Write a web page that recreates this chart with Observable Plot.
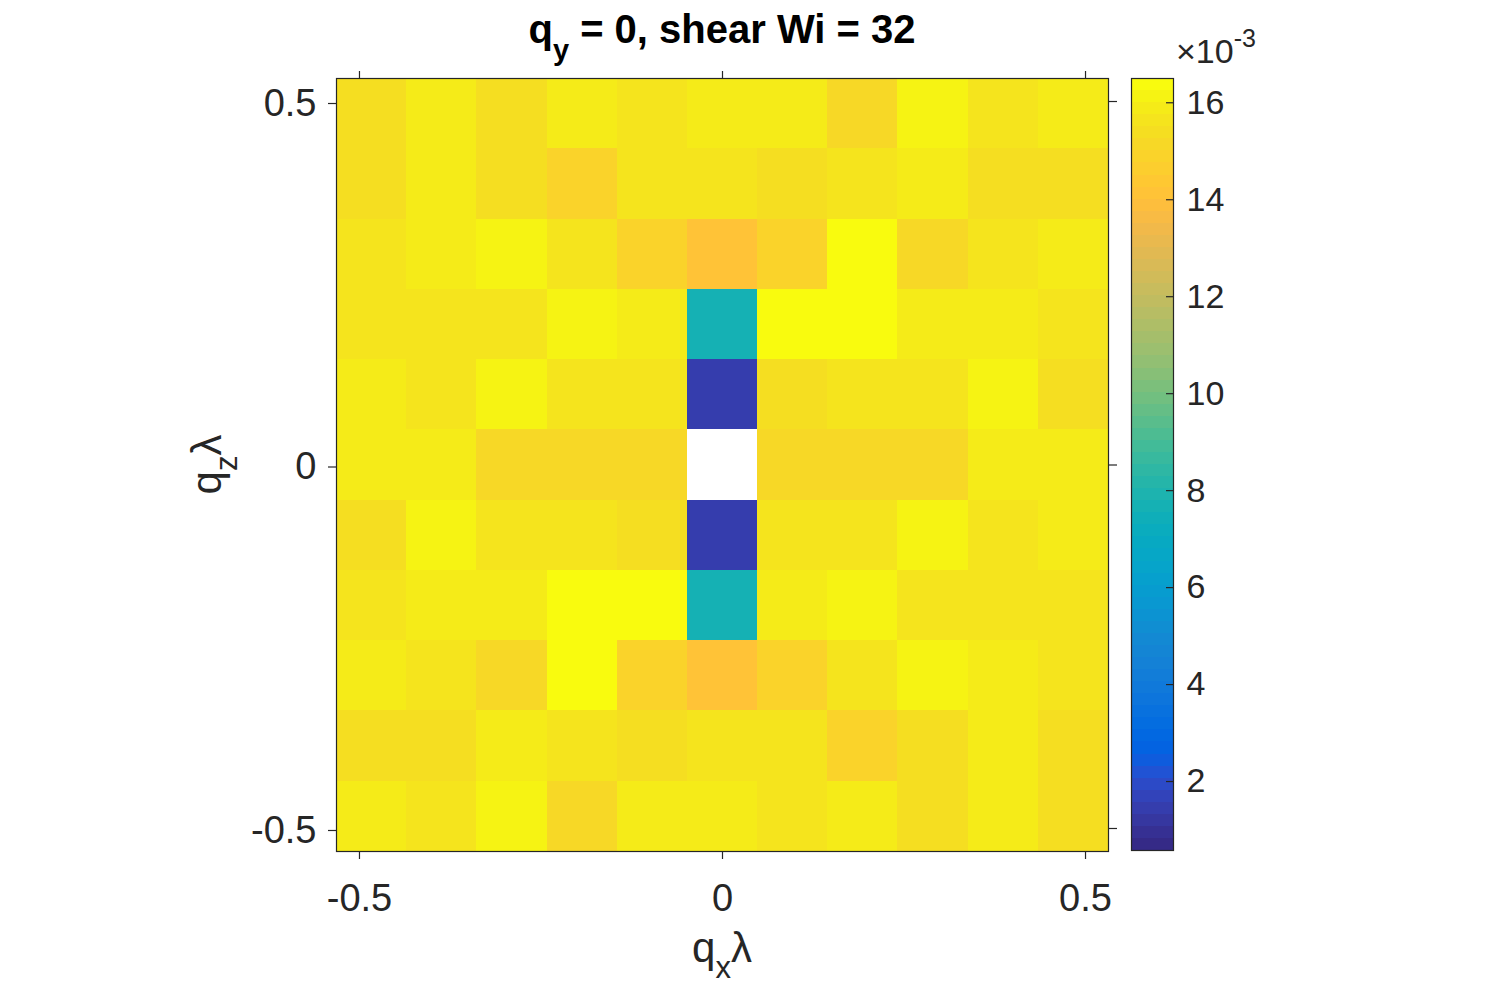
<!DOCTYPE html>
<html><head><meta charset="utf-8">
<script src="https://cdn.jsdelivr.net/npm/d3@7"></script>
<script src="https://cdn.jsdelivr.net/npm/@observablehq/plot@0.6"></script>
<style>
body{margin:0;background:#fff;}
#wrap{position:relative;width:1503px;height:988px;overflow:hidden;background:#fff;}
#wrap svg{position:absolute;top:0;}
</style></head><body><div id="wrap"></div>
<script>
// cell centres (q lambda), spacing 2*pi/65
const qx = [-0.4833, -0.3867, -0.2900, -0.1933, -0.0967, 0, 0.0967, 0.1933, 0.2900, 0.3867, 0.4833];
const qz = [0.4833, 0.3867, 0.2900, 0.1933, 0.0967, 0, -0.0967, -0.1933, -0.2900, -0.3867, -0.4833];
const dq = 0.0967;
// values in units of 1e-3, one row per qz (top to bottom), null = no data
const rowP5 = [15.35, 15.85, 15.35, 15.85, 15.6, 15.85, 15.85, 15.1, 16.1, 15.6, 15.85];
const rowP4 = [15.35, 15.85, 15.35, 14.85, 15.6, 15.6, 15.35, 15.6, 15.85, 15.35, 15.35];
const rowP3 = [15.6, 15.85, 16.1, 15.6, 14.85, 14.1, 14.85, 16.4, 15.1, 15.6, 15.85];
const rowP2 = [15.6, 15.6, 15.6, 16.1, 15.85, 7.65, 16.4, 16.4, 15.85, 15.85, 15.6];
const rowP1 = [15.85, 15.6, 16.1, 15.6, 15.6, 1.4, 15.35, 15.6, 15.6, 16.1, 15.35];
const row0  = [15.85, 15.85, 15.15, 15.15, 15.15, null, 15.15, 15.15, 15.15, 15.85, 15.85];
const rowM1 = [15.35, 16.1, 15.6, 15.6, 15.35, 1.4, 15.6, 15.6, 16.1, 15.6, 15.85];
const rowM2 = [15.6, 15.85, 15.85, 16.4, 16.4, 7.65, 15.85, 16.1, 15.6, 15.6, 15.6];
const rowM3 = [15.85, 15.6, 15.1, 16.4, 14.85, 14.1, 14.85, 15.6, 16.1, 15.85, 15.6];
const rowM4 = [15.35, 15.35, 15.85, 15.6, 15.35, 15.6, 15.6, 14.85, 15.35, 15.85, 15.35];
const rowM5 = [15.85, 15.6, 16.1, 15.1, 15.85, 15.85, 15.6, 15.85, 15.35, 15.85, 15.35];
const rows = [rowP5, rowP4, rowP3, rowP2, rowP1, row0, rowM1, rowM2, rowM3, rowM4, rowM5];

const xTicks = [-0.5, 0, 0.5];
const yTicks = [-0.5, 0, 0.5];
const cTicks = [2, 4, 6, 8, 10, 12, 14, 16];
const cLim = [0.557, 16.48];

// MATLAB parula, 64 entries
const parula = [
[0.2081,0.1663,0.5292],[0.2116,0.1898,0.5777],[0.2123,0.2138,0.6270],[0.2081,0.2386,0.6771],
[0.1959,0.2645,0.7279],[0.1707,0.2919,0.7792],[0.1253,0.3242,0.8303],[0.0591,0.3598,0.8683],
[0.0117,0.3875,0.8820],[0.0060,0.4086,0.8828],[0.0165,0.4266,0.8786],[0.0329,0.4430,0.8720],
[0.0498,0.4586,0.8641],[0.0629,0.4737,0.8554],[0.0723,0.4887,0.8467],[0.0779,0.5040,0.8384],
[0.0793,0.5200,0.8312],[0.0749,0.5375,0.8263],[0.0641,0.5570,0.8240],[0.0488,0.5772,0.8228],
[0.0343,0.5966,0.8199],[0.0265,0.6137,0.8135],[0.0239,0.6287,0.8038],[0.0231,0.6418,0.7913],
[0.0228,0.6535,0.7768],[0.0267,0.6642,0.7607],[0.0384,0.6743,0.7436],[0.0590,0.6838,0.7254],
[0.0843,0.6928,0.7062],[0.1133,0.7015,0.6859],[0.1453,0.7098,0.6646],[0.1801,0.7177,0.6424],
[0.2178,0.7250,0.6193],[0.2586,0.7317,0.5954],[0.3022,0.7376,0.5712],[0.3482,0.7424,0.5473],
[0.3953,0.7459,0.5244],[0.4420,0.7481,0.5033],[0.4871,0.7491,0.4840],[0.5300,0.7491,0.4661],
[0.5709,0.7485,0.4494],[0.6099,0.7473,0.4337],[0.6473,0.7456,0.4188],[0.6834,0.7435,0.4044],
[0.7184,0.7411,0.3905],[0.7525,0.7384,0.3768],[0.7858,0.7356,0.3633],[0.8185,0.7327,0.3498],
[0.8507,0.7299,0.3360],[0.8824,0.7274,0.3217],[0.9139,0.7258,0.3063],[0.9450,0.7261,0.2886],
[0.9739,0.7314,0.2666],[0.9938,0.7455,0.2403],[0.9990,0.7653,0.2164],[0.9955,0.7861,0.1967],
[0.9880,0.8066,0.1794],[0.9789,0.8271,0.1633],[0.9697,0.8481,0.1475],[0.9626,0.8705,0.1309],
[0.9589,0.8949,0.1132],[0.9598,0.9218,0.0948],[0.9661,0.9514,0.0755],[0.9763,0.9831,0.0538]];
const parulaCss = parula.map(c => `rgb(${Math.round(c[0]*255)},${Math.round(c[1]*255)},${Math.round(c[2]*255)})`);
const parulaAt = t => parulaCss[Math.max(0, Math.min(63, Math.floor(t * 64)))];

const cells = [];
qz.forEach((z, i) => qx.forEach((x, j) => {
  const v = rows[i][j];
  if (v != null) cells.push({qx: x, qz: z, v});
}));

const FONT = "'Liberation Sans', Arial, Helvetica, sans-serif";
const INK = "#262626";
const colorScale = {type: "linear", domain: cLim, interpolate: parulaAt, clamp: true};

const main = Plot.plot({
  width: 1503, height: 988,
  marginLeft: 336, marginRight: 395, marginTop: 78, marginBottom: 137,
  x: {domain: [qx[0] - dq / 2, qx[qx.length - 1] + dq / 2]},
  y: {domain: [qz[qz.length - 1] - dq / 2, qz[0] + dq / 2]},
  color: colorScale,
  style: {fontFamily: FONT, fontSize: "38px", color: INK, background: "white", overflow: "visible"},
  marks: [
    Plot.rect(cells, {x1: d => d.qx - dq / 2, x2: d => d.qx + dq / 2, y1: d => d.qz - dq / 2, y2: d => d.qz + dq / 2, fill: "v", shapeRendering: "crispEdges"}),
    Plot.frame({stroke: INK, strokeWidth: 1.2}),
    Plot.axisX({anchor: "bottom", ticks: xTicks, tickSize: 8, tickPadding: 25, label: null, tickFormat: d => String(d), stroke: INK, strokeWidth: 1.2}),
    Plot.axisX({anchor: "top", ticks: xTicks, tickSize: 8, label: null, tickFormat: () => "", stroke: INK, strokeWidth: 1.2}),
    Plot.axisY({anchor: "left", ticks: yTicks, tickSize: 8, tickPadding: 12, dy: 2, label: null, tickFormat: d => String(d), stroke: INK, strokeWidth: 1.2}),
    Plot.axisY({anchor: "right", ticks: yTicks, tickSize: 8, label: null, tickFormat: () => "", stroke: INK, strokeWidth: 1.2})
  ]
});
main.style.left = "0px";
document.getElementById("wrap").appendChild(main);

const nb = parula.length;
const span = (cLim[1] - cLim[0]) / nb;
const bins = parula.map((c, i) => ({lo: cLim[0] + i * span, hi: cLim[0] + (i + 1) * span, mid: cLim[0] + (i + 0.5) * span}));

const cb = Plot.plot({
  width: 260, height: 988,
  marginLeft: 11, marginRight: 207, marginTop: 78, marginBottom: 138,
  x: {domain: [0, 1], axis: null},
  y: {domain: cLim},
  color: colorScale,
  style: {fontFamily: FONT, fontSize: "34px", color: INK, background: "transparent", overflow: "visible"},
  marks: [
    Plot.rect(bins, {y1: "lo", y2: "hi", fill: "mid", shapeRendering: "crispEdges"}),
    Plot.frame({stroke: INK, strokeWidth: 1.2}),
    Plot.axisY({anchor: "right", ticks: cTicks, tickSize: 8, dx: -8, tickPadding: 13, dy: 1, label: null, tickFormat: d => String(d), stroke: INK, strokeWidth: 1.2})
  ]
});
cb.style.left = "1120px";
document.getElementById("wrap").appendChild(cb);

// Titles and labels with sub/superscripts
const svg = d3.select(main);
const xs = main.scale("x"), ys = main.scale("y");
const cx = (xs.range[0] + xs.range[1]) / 2;
const cy = (ys.range[0] + ys.range[1]) / 2;

const title = svg.append("text").attr("x", cx).attr("y", 43).attr("text-anchor", "middle")
  .attr("font-family", FONT).attr("font-weight", "bold").attr("font-size", 40).attr("fill", "#000")
  .style("white-space", "pre");
title.append("tspan").text("q");
title.append("tspan").attr("dy", 17).attr("font-size", 29).text("y");
title.append("tspan").attr("dy", -17).text(" = 0, shear Wi = 32");

const xl = svg.append("text").attr("x", cx).attr("y", 962).attr("text-anchor", "middle")
  .attr("font-family", FONT).attr("font-size", 42).attr("fill", INK);
xl.append("tspan").text("q");
xl.append("tspan").attr("dy", 16).attr("font-size", 31).text("x");
xl.append("tspan").attr("dy", -16).text("λ");

const yl = svg.append("text").attr("transform", `translate(221,${cy}) rotate(-90)`).attr("text-anchor", "middle")
  .attr("font-family", FONT).attr("font-size", 42).attr("fill", INK);
yl.append("tspan").text("q");
yl.append("tspan").attr("dy", 16).attr("font-size", 31).text("z");
yl.append("tspan").attr("dy", -16).text("λ");

const ex = svg.append("text").attr("x", 1176).attr("y", 63).attr("text-anchor", "start")
  .attr("font-family", FONT).attr("font-size", 34).attr("fill", INK);
ex.append("tspan").text("×10");
ex.append("tspan").attr("dy", -16).attr("font-size", 25).text("-3");
</script></body></html>
